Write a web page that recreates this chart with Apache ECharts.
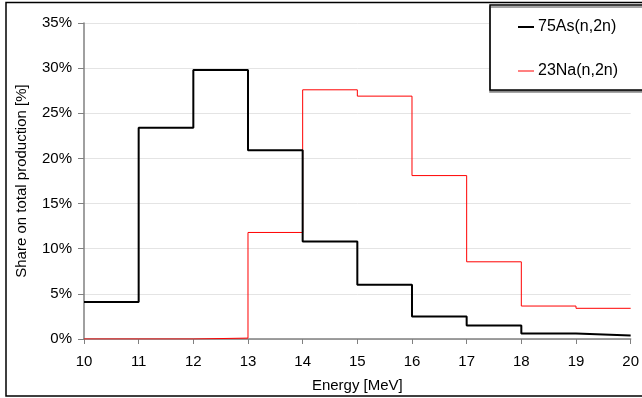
<!DOCTYPE html>
<html>
<head>
<meta charset="utf-8">
<script src="https://cdn.jsdelivr.net/npm/echarts@6/dist/echarts.min.js"></script>
<style>
  html, body { margin: 0; padding: 0; background: #fff; }
  #chart { width: 642px; height: 398px; }
</style>
</head>
<body>
<div id="chart"></div>
<script>
// bin edges in MeV, share per bin in %
const energyEdges = [10, 11, 12, 13, 14, 15, 16, 17, 18, 19, 20]
const as75Share = [4.1, 23.4, 29.8, 20.9, 10.8, 6.0, 2.5, 1.5, 0.6, 0.4]
const na23Share = [0, 0, 0.1, 11.8, 27.6, 26.9, 18.1, 8.55, 3.65, 3.4]
const seriesNames = ['75As(n,2n)', '23Na(n,2n)']

// step 'end' needs the last value repeated at the closing edge
function stepData(values) {
  return energyEdges.map((e, i) => [e, values[Math.min(i, values.length - 1)]])
}

const font = 'Liberation Sans, Arial, sans-serif'
const chart = echarts.init(document.getElementById('chart'))
chart.setOption({
  animation: false,
  textStyle: { fontFamily: font },
  grid: { left: 84, right: 10, top: 23, bottom: 59 },
  graphic: [{
    type: 'rect',
    shape: { x: 6, y: 2.5, width: 700, height: 393.5 },
    style: { fill: 'none', stroke: '#000', lineWidth: 1.5 },
    z: 10
  }],
  legend: {
    orient: 'vertical',
    left: 490,
    top: 5,
    padding: [14, 120, 11, 28],
    itemGap: 28,
    itemWidth: 16,
    itemHeight: 14,
    borderColor: '#000',
    borderWidth: 1.5,
    shadowColor: '#888',
    shadowOffsetY: 2,
    shadowOffsetX: 0,
    shadowBlur: 0,
    backgroundColor: '#fff',
    textStyle: { fontFamily: font, fontSize: 16, color: '#000', padding: [0, 0, 0, -1] },
    data: [
      { name: seriesNames[0], icon: 'path://M0,0H16V2H0Z' },
      { name: seriesNames[1], icon: 'path://M0,0H16V1H0Z' }
    ]
  },
  xAxis: {
    type: 'value',
    min: 10,
    max: 20,
    interval: 1,
    name: 'Energy [MeV]',
    nameLocation: 'middle',
    nameGap: 39,
    nameTextStyle: { fontFamily: font, fontSize: 15, color: '#000' },
    axisLine: { lineStyle: { color: '#808080', width: 1.5 } },
    axisTick: { length: 5, lineStyle: { color: '#808080' } },
    axisLabel: { fontFamily: font, fontSize: 15, color: '#000', margin: 15 },
    splitLine: { show: false }
  },
  yAxis: {
    type: 'value',
    min: 0,
    max: 35,
    interval: 5,
    name: 'Share on total production [%]',
    nameLocation: 'middle',
    nameGap: 55,
    nameTextStyle: { fontFamily: font, fontSize: 15, color: '#000' },
    axisLine: { show: true, lineStyle: { color: '#808080', width: 1.5 } },
    axisTick: { show: true, length: 6, lineStyle: { color: '#808080' } },
    axisLabel: { fontFamily: font, fontSize: 15, color: '#000', margin: 12, formatter: '{value}%' },
    splitLine: { lineStyle: { color: '#e4e4e4', width: 1 } }
  },
  series: [
    {
      name: seriesNames[1],
      type: 'line',
      step: 'end',
      symbol: 'none',
      data: stepData(na23Share),
      lineStyle: { color: '#ff0000', width: 1 },
      itemStyle: { color: '#ff0000' },
      z: 2
    },
    {
      name: seriesNames[0],
      type: 'line',
      step: 'end',
      symbol: 'none',
      data: stepData(as75Share),
      lineStyle: { color: '#000', width: 2 },
      itemStyle: { color: '#000' },
      z: 3
    }
  ]
})
</script>
</body>
</html>
